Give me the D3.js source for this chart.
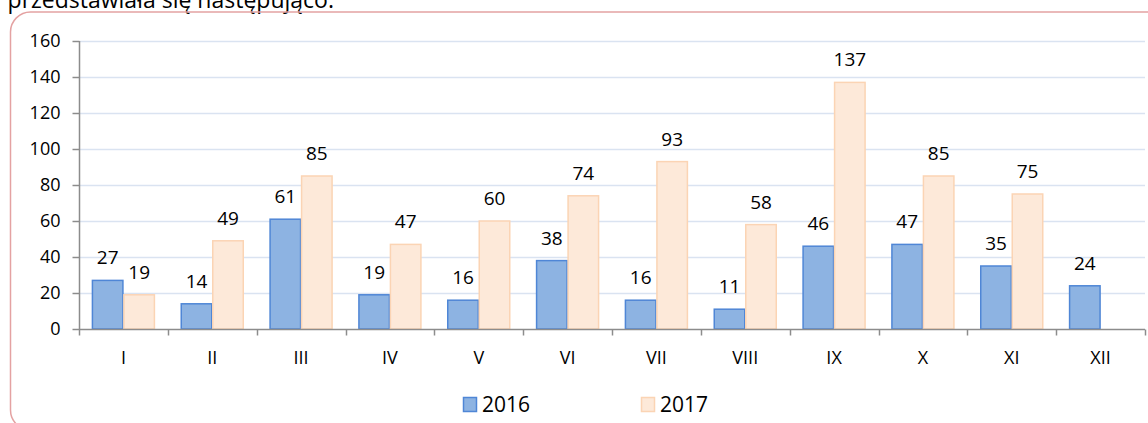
<!DOCTYPE html>
<html><head><meta charset="utf-8">
<script src="https://cdn.jsdelivr.net/npm/d3@7"></script>
<style>body{margin:0;background:#fff;} svg{display:block;font-family:"Open Sans",sans-serif;}</style>
</head><body>
<svg id="c" width="1148" height="423"></svg>
<script>
const categories = ["I","II","III","IV","V","VI","VII","VIII","IX","X","XI","XII"];
const seriesNames = ["2016","2017"];
const values2016 = [27,14,61,19,16,38,16,11,46,47,35,24];
const values2017 = [19,49,85,47,60,74,93,58,137,85,75,null];
const yTicks = [0,20,40,60,80,100,120,140,160];
const colors = {fill:["#8db3e2","#fde9d9"], stroke:["#4f86d6","#fbd4b4"]};
const FONT = "Open Sans";

const svg = d3.select("#c");
// header text (partly cut off at the top, as in the reference)
svg.append("text").attr("x",334).attr("y",8).attr("text-anchor","end")
  .attr("font-size",23).attr("fill","#000").text("przedstawiała się następująco:");
// border
svg.append("rect").attr("x",10.5).attr("y",12).attr("width",1160).attr("height",418)
  .attr("rx",20).attr("fill","none").attr("stroke","#e4a2a2").attr("stroke-width",1.5);

const x0 = d3.scaleBand().domain(categories).range([79,1145]).padding(0);
const x1 = d3.scaleBand().domain(seriesNames).range([0,x0.bandwidth()]).paddingInner(0).paddingOuter(0.41);
const y = d3.scaleLinear().domain([0,160]).range([329,41]);

// gridlines
svg.append("g").selectAll("line").data(yTicks.filter(d=>d>0)).join("line")
  .attr("x1",80).attr("x2",1145).attr("y1",d=>y(d)+0.5).attr("y2",d=>y(d)+0.5)
  .attr("stroke","#dae3f1").attr("stroke-width",1.5);

// y axis
const yAxis = d3.axisLeft(y).tickValues(yTicks).tickSize(7).tickPadding(12);
const gy = svg.append("g").attr("transform","translate(79.5,0)").call(yAxis);
gy.selectAll("path,line").attr("stroke","#8c8c8c").attr("stroke-width",1.5);
gy.select(".domain").attr("d","M0,"+y(160)+"V"+y(0));
gy.selectAll("text").attr("font-size",18).attr("fill","#000").attr("font-family",FONT);

// bars
const series = [values2016, values2017];
series.forEach((vals,si)=>{
  const g = svg.append("g");
  const data = categories.map((c,i)=>({c, v: vals[i]})).filter(d=>d.v!=null);
  g.selectAll("rect").data(data).join("rect")
    .attr("x",d=>x0(d.c)+x1(seriesNames[si])+0.5)
    .attr("width",x1.bandwidth()-1)
    .attr("y",d=>y(d.v)).attr("height",d=>y(0)-y(d.v))
    .attr("fill",colors.fill[si]).attr("stroke",colors.stroke[si]).attr("stroke-width",1.5);
  g.selectAll("text").data(data).join("text")
    .attr("x",d=>x0(d.c)+x1(seriesNames[si])+x1.bandwidth()/2)
    .attr("y",d=>y(d.v)-16).attr("text-anchor","middle")
    .attr("font-size",19).attr("fill","#000").text(d=>d.v);
});

// x axis
const xAxis = d3.axisBottom(x0).tickSize(0).tickPadding(22);
const gx = svg.append("g").attr("transform","translate(0,"+(y(0)+0.5)+")").call(xAxis);
gx.select(".domain").attr("d","M79,0H1145").attr("stroke","#8c8c8c").attr("stroke-width",1.5);
gx.selectAll("text").attr("font-size",18).attr("fill","#000").attr("font-family",FONT);
const bounds = categories.map(c=>x0(c)).concat([x0.range()[1]]);
gx.append("g").selectAll("line").data(bounds).join("line")
  .attr("x1",d=>Math.round(d)+0.5).attr("x2",d=>Math.round(d)+0.5).attr("y1",0).attr("y2",6)
  .attr("stroke","#8c8c8c").attr("stroke-width",1.5);

// legend
const legendX = [463,641];
const lg = svg.append("g");
seriesNames.forEach((s,i)=>{
  lg.append("rect").attr("x",legendX[i]+0.5).attr("y",397.5).attr("width",13).attr("height",14)
    .attr("fill",colors.fill[i]).attr("stroke",colors.stroke[i]).attr("stroke-width",1.5);
  lg.append("text").attr("x",legendX[i]+19).attr("y",412).attr("font-size",21)
    .attr("fill","#000").text(s);
});
</script>
</body></html>
